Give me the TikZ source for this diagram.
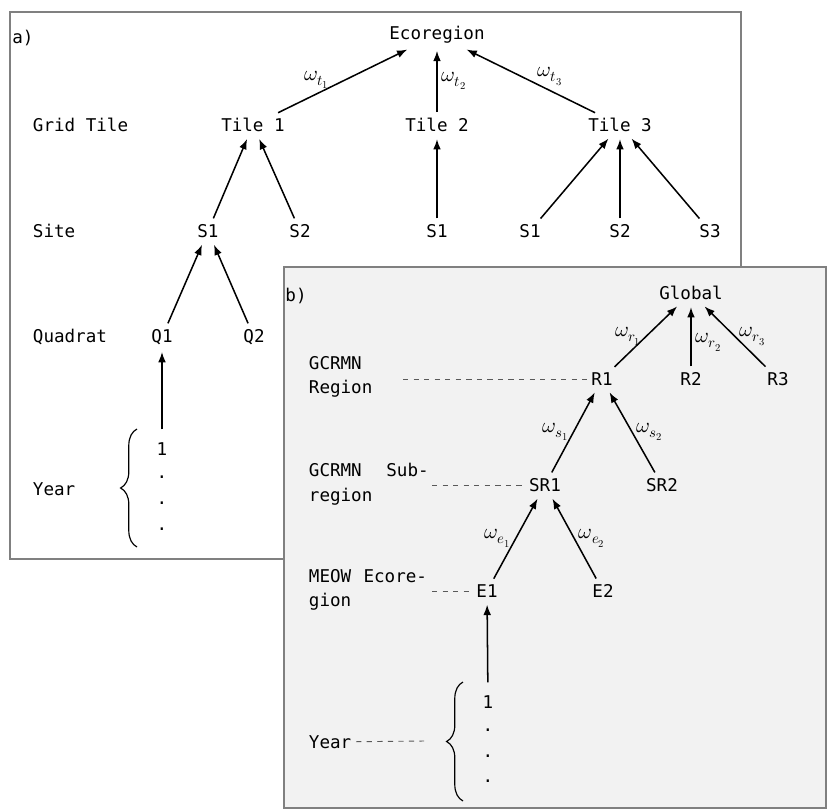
\documentclass[tikz,border=0pt]{standalone}
\usepackage{fontspec}
\usepackage{unicode-math}
\setmainfont{DejaVu Sans Mono}
\setmathfont{Latin Modern Math}
\usepackage{tikz}
\usetikzlibrary{arrows.meta,decorations.pathreplacing,positioning}

\begin{document}
\begin{tikzpicture}[
    x=0.03cm,
    y=-0.03cm,
    >=Latex,
    every node/.style={font=\fontsize{15}{21}\selectfont,inner sep=4pt},
    wlab/.style={font=\fontsize{18}{21}\selectfont,inner sep=3.5pt},
    link/.style={->,line width=1.3pt,shorten >=2pt,shorten <=1pt},
    guide/.style={line width=0.8pt,black!65,dash pattern=on 4.5pt off 4.5pt},
    panel/.style={draw=gray,line width=1pt},
    yearbrace/.style={decorate,decoration={brace,amplitude=14pt},line width=1pt}
]

\useasboundingbox (0,0) rectangle (827,809);

% ---------------------------------------------------------
% Panel a: ecoregion hierarchy
% ---------------------------------------------------------

\draw[panel,fill=white] (10,12) rectangle (741,559);

\node (alab) at (23,38) {a)};

\node (eco) at (437,35) {Ecoregion};

\node[anchor=west] (gridlab) at (28,125) {Grid Tile};
\node (tile1) at (253,125) {Tile 1};
\node (tile2) at (437,125) {Tile 2};
\node (tile3) at (620,125) {Tile 3};

\node[anchor=west] (sitelab) at (28,231) {Site};
\node (sa1) at (208,231) {S1};
\node (sa2) at (300,231) {S2};
\node (sb1) at (437,231) {S1};
\node (sc1) at (530,231) {S1};
\node (sc2) at (620,231) {S2};
\node (sc3) at (710,231) {S3};

\node[anchor=west] (quadlab) at (28,337) {Quadrat};
\node (q1) at (162,337) {Q1};
\node (q2) at (254,337) {Q2};

\node[anchor=west] (yrlaba) at (28,489) {Year};
\node (ayr1) at (162,449) {1};
\node (ayr2) at (162,477) {.};
\node (ayr3) at (162,503) {.};
\node (ayr4) at (162,529) {.};

\draw[yearbrace] (137,547) -- (137,429);

% Tiles to ecoregion
\draw[link] (tile1) -- (eco)
    node[wlab,pos=0.3,above] {\(\omega_{t_1}\)};
\draw[link] (tile2) -- (eco)
    node[wlab,midway,right] {\(\omega_{t_2}\)};
\draw[link] (tile3) -- (eco)
    node[wlab,pos=0.35,above] {\(\omega_{t_3}\)};

% Sites to tiles
\draw[link] (sa1) -- (tile1);
\draw[link] (sa2) -- (tile1);
\draw[link] (sb1) -- (tile2);
\draw[link] (sc1) -- (tile3);
\draw[link] (sc2) -- (tile3);
\draw[link] (sc3) -- (tile3);

% Quadrats to site
\draw[link] (q1) -- (sa1);
\draw[link] (q2) -- (sa1);

% Years to quadrat
\draw[link,shorten <=7pt] (ayr1) -- (q1);

% ---------------------------------------------------------
% Panel b: GCRMN hierarchy
% ---------------------------------------------------------

\draw[panel,fill=black!5] (284,267) rectangle (826,808);

\node (blab) at (296,296) {b)};

\node (glob) at (691,293) {Global};

\node[anchor=west,align=left] (reglab) at (304,377) {GCRMN\\Region};
\node (r1) at (602,379) {R1};
\node (r2) at (691,379) {R2};
\node (r3) at (778,379) {R3};

\node[anchor=west,align=left] (sublab) at (304,484)
    {GCRMN\hspace{1.4em}Sub-\\region};
\node (sr1) at (545,485) {SR1};
\node (sr2) at (662,485) {SR2};

\node[anchor=west,align=left] (meowlab) at (304,590)
    {MEOW\hspace{0.7em}Ecore-\\gion};
\node (e1) at (487,591) {E1};
\node (e2) at (603,591) {E2};

\node[anchor=west] (yrlabb) at (304,742) {Year};
\node (byr1) at (488,702) {1};
\node (byr2) at (488,730) {.};
\node (byr3) at (488,756) {.};
\node (byr4) at (488,781) {.};

\draw[yearbrace] (463,801) -- (463,682);

% Level guides
\coordinate (regdash) at (403,379);
\coordinate (subdash) at (432,485);
\coordinate (meowdash) at (432,591);
\coordinate (yeardash) at (424,741);

\draw[guide] (regdash) -- (r1);
\draw[guide] (subdash) -- (sr1);
\draw[guide] (meowdash) -- (e1);
\draw[guide] (yrlabb) -- (yeardash);

% Regions to global
\draw[link] (r1) -- (glob)
    node[wlab,midway,left] {\(\omega_{r_1}\)};
\draw[link] (r2) -- (glob)
    node[wlab,pos=0.4,right] {\(\omega_{r_2}\)};
\draw[link] (r3) -- (glob)
    node[wlab,midway,right] {\(\omega_{r_3}\)};

% Subregions to region
\draw[link] (sr1) -- (r1)
    node[wlab,midway,left] {\(\omega_{s_1}\)};
\draw[link] (sr2) -- (r1)
    node[wlab,midway,right] {\(\omega_{s_2}\)};

% Ecoregions to subregion
\draw[link] (e1) -- (sr1)
    node[wlab,midway,left] {\(\omega_{e_1}\)};
\draw[link] (e2) -- (sr1)
    node[wlab,midway,right] {\(\omega_{e_2}\)};

% Years to ecoregion
\draw[link,shorten <=7pt] (byr1) -- (e1);

\end{tikzpicture}
\end{document}
